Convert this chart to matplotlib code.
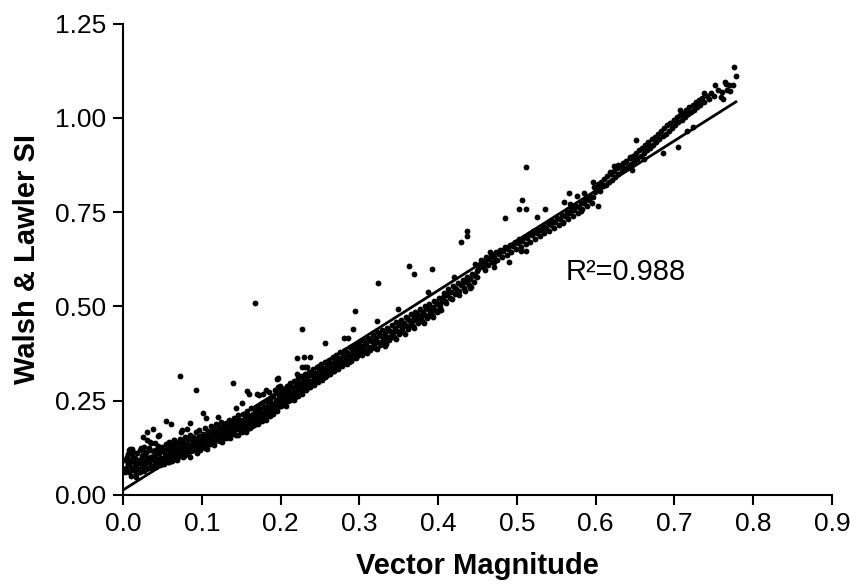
import matplotlib
matplotlib.use("Agg")
import matplotlib.pyplot as plt
import numpy as np

# (vector magnitude, Walsh & Lawler SI) pairs
band_a = [
	(0.002, 0.094), (0.004, 0.072), (0.005, 0.101), (0.006, 0.083), (0.007, 0.119), (0.008, 0.061), (0.009, 0.090), (0.010, 0.051), (0.010, 0.075), (0.011, 0.108),
	(0.012, 0.122), (0.013, 0.066), (0.014, 0.087), (0.015, 0.098), (0.016, 0.057), (0.017, 0.048), (0.017, 0.079), (0.018, 0.112), (0.019, 0.070), (0.020, 0.093),
	(0.021, 0.060), (0.022, 0.084), (0.023, 0.125), (0.024, 0.103), (0.025, 0.073), (0.026, 0.090), (0.027, 0.127), (0.027, 0.064), (0.028, 0.081), (0.029, 0.110), (0.030, 0.097),
	(0.031, 0.145), (0.032, 0.071), (0.033, 0.088), (0.034, 0.118), (0.035, 0.078), (0.036, 0.139), (0.036, 0.101), (0.037, 0.068), (0.038, 0.092), (0.039, 0.113), (0.040, 0.139), (0.040, 0.083),
	(0.041, 0.105), (0.042, 0.074), (0.043, 0.096), (0.044, 0.156), (0.044, 0.121), (0.045, 0.086), (0.046, 0.110), (0.047, 0.079), (0.048, 0.099), (0.049, 0.128), (0.050, 0.091),
	(0.051, 0.116), (0.052, 0.083), (0.053, 0.104), (0.054, 0.134), (0.055, 0.094), (0.056, 0.122), (0.057, 0.087), (0.058, 0.109), (0.059, 0.140), (0.060, 0.099),
	(0.061, 0.118), (0.062, 0.090), (0.063, 0.130), (0.064, 0.106), (0.065, 0.146), (0.066, 0.096), (0.067, 0.124), (0.068, 0.111), (0.069, 0.137), (0.070, 0.101),
	(0.071, 0.120), (0.072, 0.148), (0.073, 0.108), (0.074, 0.131), (0.075, 0.115), (0.076, 0.142), (0.077, 0.104), (0.078, 0.127), (0.079, 0.153), (0.080, 0.117),
	(0.081, 0.136), (0.082, 0.110), (0.083, 0.148), (0.084, 0.124), (0.085, 0.160), (0.086, 0.116), (0.087, 0.139), (0.088, 0.129), (0.089, 0.154), (0.090, 0.121),
	(0.091, 0.143), (0.092, 0.131), (0.093, 0.166), (0.094, 0.125), (0.095, 0.150), (0.096, 0.138), (0.097, 0.172), (0.098, 0.118), (0.099, 0.157), (0.100, 0.142),
]

band_b = [
	(0.101, 0.130), (0.102, 0.163), (0.103, 0.148), (0.104, 0.178), (0.105, 0.137), (0.106, 0.155), (0.107, 0.122), (0.108, 0.170), (0.109, 0.145), (0.110, 0.160),
	(0.111, 0.134), (0.112, 0.184), (0.113, 0.151), (0.114, 0.166), (0.115, 0.141), (0.116, 0.175), (0.117, 0.158), (0.118, 0.189), (0.119, 0.147), (0.120, 0.169),
	(0.121, 0.155), (0.122, 0.180), (0.123, 0.143), (0.124, 0.163), (0.125, 0.194), (0.126, 0.172), (0.127, 0.152), (0.128, 0.184), (0.129, 0.166), (0.130, 0.159),
	(0.131, 0.190), (0.132, 0.175), (0.133, 0.157), (0.134, 0.199), (0.135, 0.170), (0.136, 0.183), (0.137, 0.162), (0.138, 0.193), (0.139, 0.177), (0.140, 0.169),
	(0.141, 0.204), (0.142, 0.186), (0.143, 0.160), (0.144, 0.196), (0.145, 0.178), (0.146, 0.211), (0.147, 0.190), (0.148, 0.172), (0.149, 0.200), (0.150, 0.184),
	(0.151, 0.168), (0.152, 0.215), (0.153, 0.194), (0.154, 0.180), (0.155, 0.207), (0.156, 0.188), (0.157, 0.176), (0.158, 0.222), (0.159, 0.199), (0.160, 0.186),
	(0.161, 0.210), (0.162, 0.194), (0.163, 0.230), (0.164, 0.182), (0.165, 0.216), (0.166, 0.201), (0.167, 0.191), (0.168, 0.224), (0.169, 0.207), (0.170, 0.196),
	(0.171, 0.236), (0.172, 0.214), (0.173, 0.200), (0.174, 0.228), (0.175, 0.209), (0.176, 0.244), (0.177, 0.218), (0.178, 0.204), (0.179, 0.233), (0.180, 0.221),
	(0.181, 0.210), (0.182, 0.249), (0.183, 0.227), (0.184, 0.238), (0.185, 0.215), (0.186, 0.255), (0.187, 0.231), (0.188, 0.244), (0.189, 0.222), (0.190, 0.236),
	(0.191, 0.262), (0.192, 0.240), (0.193, 0.228), (0.194, 0.251), (0.195, 0.270), (0.196, 0.244), (0.197, 0.233), (0.198, 0.258), (0.199, 0.276), (0.200, 0.249),
]

band_c = [
	(0.201, 0.237), (0.202, 0.265), (0.203, 0.252), (0.204, 0.281), (0.205, 0.243), (0.206, 0.270), (0.207, 0.258), (0.208, 0.290), (0.209, 0.249), (0.210, 0.276),
	(0.211, 0.262), (0.212, 0.297), (0.213, 0.268), (0.214, 0.254), (0.215, 0.285), (0.216, 0.273), (0.217, 0.303), (0.218, 0.260), (0.219, 0.290), (0.220, 0.279),
	(0.221, 0.267), (0.222, 0.309), (0.223, 0.284), (0.224, 0.296), (0.225, 0.272), (0.226, 0.315), (0.227, 0.291), (0.228, 0.278), (0.229, 0.304), (0.230, 0.288),
	(0.231, 0.321), (0.232, 0.297), (0.233, 0.283), (0.234, 0.312), (0.235, 0.294), (0.236, 0.327), (0.237, 0.303), (0.238, 0.290), (0.239, 0.318), (0.240, 0.300),
	(0.241, 0.334), (0.242, 0.310), (0.243, 0.296), (0.244, 0.324), (0.245, 0.306), (0.246, 0.340), (0.247, 0.317), (0.248, 0.302), (0.249, 0.330), (0.250, 0.312),
	(0.251, 0.346), (0.252, 0.322), (0.253, 0.309), (0.254, 0.337), (0.255, 0.318), (0.256, 0.352), (0.257, 0.329), (0.258, 0.315), (0.259, 0.343), (0.260, 0.326),
	(0.261, 0.358), (0.262, 0.335), (0.263, 0.321), (0.264, 0.350), (0.265, 0.332), (0.266, 0.365), (0.267, 0.341), (0.268, 0.328), (0.269, 0.356), (0.270, 0.339),
	(0.271, 0.371), (0.272, 0.348), (0.273, 0.334), (0.274, 0.362), (0.275, 0.345), (0.276, 0.378), (0.277, 0.354), (0.278, 0.341), (0.279, 0.369), (0.280, 0.352),
	(0.282, 0.384), (0.283, 0.362), (0.284, 0.348), (0.285, 0.376), (0.287, 0.359), (0.288, 0.392), (0.289, 0.369), (0.290, 0.356), (0.292, 0.383), (0.293, 0.366),
	(0.294, 0.398), (0.295, 0.376), (0.296, 0.363), (0.297, 0.390), (0.298, 0.372), (0.299, 0.404), (0.300, 0.381),
]

band_d = [
	(0.302, 0.395), (0.303, 0.371), (0.305, 0.410), (0.306, 0.388), (0.308, 0.378), (0.309, 0.402), (0.311, 0.417), (0.312, 0.393), (0.314, 0.384), (0.315, 0.408),
	(0.317, 0.425), (0.318, 0.399), (0.320, 0.390), (0.321, 0.415), (0.323, 0.431), (0.324, 0.406), (0.326, 0.398), (0.327, 0.422), (0.329, 0.438), (0.330, 0.413),
	(0.332, 0.405), (0.333, 0.429), (0.335, 0.444), (0.336, 0.420), (0.338, 0.412), (0.339, 0.436), (0.341, 0.451), (0.342, 0.427), (0.344, 0.419), (0.345, 0.443),
	(0.347, 0.458), (0.348, 0.434), (0.350, 0.426), (0.351, 0.450), (0.353, 0.465), (0.354, 0.442), (0.356, 0.433), (0.357, 0.457), (0.359, 0.472), (0.360, 0.449),
	(0.362, 0.441), (0.363, 0.464), (0.365, 0.479), (0.366, 0.456), (0.368, 0.448), (0.369, 0.471), (0.371, 0.486), (0.372, 0.463), (0.374, 0.455), (0.375, 0.478),
	(0.377, 0.493), (0.378, 0.470), (0.380, 0.462), (0.381, 0.485), (0.383, 0.500), (0.384, 0.477), (0.386, 0.469), (0.387, 0.492), (0.389, 0.507), (0.390, 0.484),
	(0.392, 0.476), (0.393, 0.499), (0.395, 0.514), (0.396, 0.491), (0.398, 0.484), (0.399, 0.506), (0.401, 0.521), (0.402, 0.498), (0.404, 0.491), (0.405, 0.513),
	(0.407, 0.536), (0.409, 0.515), (0.411, 0.530), (0.413, 0.546), (0.415, 0.523), (0.417, 0.539), (0.419, 0.554), (0.421, 0.532), (0.423, 0.547), (0.425, 0.562),
	(0.427, 0.540), (0.429, 0.556), (0.431, 0.570), (0.433, 0.549), (0.435, 0.564), (0.437, 0.578), (0.439, 0.557), (0.441, 0.572), (0.443, 0.586), (0.445, 0.566),
	(0.447, 0.581), (0.449, 0.595),
]

band_e = [
	(0.451, 0.598), (0.453, 0.613), (0.455, 0.622), (0.457, 0.604), (0.459, 0.618), (0.461, 0.630), (0.463, 0.611), (0.465, 0.625), (0.467, 0.638), (0.469, 0.617),
	(0.471, 0.632), (0.473, 0.644), (0.475, 0.624), (0.477, 0.639), (0.479, 0.650), (0.481, 0.631), (0.483, 0.646), (0.485, 0.657), (0.487, 0.637), (0.489, 0.653),
	(0.491, 0.664), (0.493, 0.644), (0.495, 0.660), (0.497, 0.671), (0.499, 0.651), (0.501, 0.667), (0.503, 0.678), (0.505, 0.658), (0.507, 0.674), (0.509, 0.685),
	(0.511, 0.665), (0.513, 0.681), (0.515, 0.692), (0.517, 0.672), (0.519, 0.688), (0.521, 0.699), (0.523, 0.679), (0.525, 0.695), (0.527, 0.706), (0.529, 0.686),
	(0.531, 0.702), (0.533, 0.713), (0.535, 0.694), (0.537, 0.709), (0.539, 0.720), (0.541, 0.701), (0.543, 0.716), (0.545, 0.727), (0.547, 0.708), (0.549, 0.724),
	(0.551, 0.735), (0.553, 0.715), (0.555, 0.731), (0.557, 0.743), (0.559, 0.723), (0.561, 0.739), (0.563, 0.751), (0.565, 0.731), (0.567, 0.747), (0.569, 0.759),
	(0.571, 0.740), (0.573, 0.756), (0.575, 0.767), (0.577, 0.748), (0.579, 0.764), (0.581, 0.775), (0.583, 0.757), (0.585, 0.773), (0.587, 0.784), (0.589, 0.766),
	(0.591, 0.782), (0.593, 0.793), (0.595, 0.775), (0.597, 0.791), (0.599, 0.802),
]

band_f = [
	(0.601, 0.812), (0.603, 0.825), (0.605, 0.806), (0.607, 0.830), (0.609, 0.818), (0.611, 0.837), (0.613, 0.822), (0.615, 0.845), (0.617, 0.829), (0.619, 0.851),
	(0.621, 0.836), (0.623, 0.860), (0.625, 0.843), (0.627, 0.866), (0.629, 0.851), (0.631, 0.872), (0.633, 0.858), (0.635, 0.879), (0.637, 0.864), (0.639, 0.886),
	(0.641, 0.871), (0.643, 0.893), (0.645, 0.878), (0.647, 0.900), (0.649, 0.885), (0.651, 0.907), (0.653, 0.892), (0.655, 0.914), (0.657, 0.899), (0.659, 0.921),
	(0.661, 0.906), (0.663, 0.929), (0.665, 0.914), (0.667, 0.936), (0.669, 0.921), (0.671, 0.943), (0.673, 0.929), (0.675, 0.950), (0.677, 0.936), (0.679, 0.958),
	(0.681, 0.944), (0.683, 0.965), (0.685, 0.951), (0.687, 0.973), (0.689, 0.958), (0.691, 0.980), (0.693, 0.966), (0.695, 0.987), (0.697, 0.973), (0.699, 0.994),
	(0.701, 0.981), (0.703, 1.001), (0.705, 0.988), (0.707, 1.008), (0.709, 0.995), (0.711, 1.014), (0.713, 1.002), (0.715, 1.021), (0.717, 1.009), (0.719, 1.028),
	(0.721, 1.016), (0.723, 1.034), (0.725, 1.022), (0.727, 1.041), (0.729, 1.029), (0.731, 1.047), (0.733, 1.035), (0.735, 1.053), (0.738, 1.042), (0.741, 1.059),
	(0.744, 1.049), (0.747, 1.066), (0.750, 1.057), (0.755, 1.075), (0.760, 1.068), (0.765, 1.090),
]

band_fill = [
	(0.003, 0.062), (0.006, 0.108), (0.008, 0.079), (0.011, 0.095), (0.013, 0.113), (0.015, 0.071), (0.018, 0.089), (0.020, 0.062), (0.022, 0.118), (0.024, 0.078),
	(0.026, 0.105), (0.029, 0.069), (0.031, 0.092), (0.033, 0.124), (0.035, 0.100), (0.038, 0.077), (0.040, 0.118), (0.042, 0.090), (0.045, 0.130), (0.047, 0.098),
	(0.049, 0.083), (0.052, 0.113), (0.054, 0.096), (0.057, 0.131), (0.059, 0.088), (0.061, 0.105), (0.064, 0.122), (0.066, 0.113), (0.069, 0.094), (0.071, 0.140),
	(0.073, 0.117), (0.076, 0.101), (0.078, 0.135), (0.080, 0.109), (0.083, 0.128), (0.085, 0.100), (0.087, 0.148), (0.089, 0.118), (0.092, 0.139), (0.094, 0.112),
	(0.096, 0.156), (0.099, 0.128), (0.102, 0.150), (0.104, 0.124), (0.107, 0.162), (0.109, 0.134), (0.112, 0.143), (0.114, 0.175), (0.116, 0.132), (0.119, 0.162),
	(0.121, 0.146), (0.124, 0.176), (0.126, 0.140), (0.129, 0.181), (0.131, 0.152), (0.134, 0.166), (0.136, 0.150), (0.139, 0.188), (0.141, 0.162), (0.144, 0.176),
	(0.146, 0.158), (0.149, 0.191), (0.151, 0.177), (0.154, 0.198), (0.156, 0.167), (0.159, 0.211), (0.161, 0.178), (0.164, 0.206), (0.166, 0.185), (0.169, 0.219),
	(0.171, 0.189), (0.174, 0.205), (0.176, 0.196), (0.179, 0.216), (0.181, 0.200), (0.184, 0.228), (0.186, 0.210), (0.189, 0.242), (0.191, 0.215), (0.194, 0.235),
	(0.196, 0.222), (0.199, 0.262), (0.202, 0.243), (0.204, 0.259), (0.207, 0.236), (0.209, 0.282), (0.212, 0.253), (0.214, 0.270), (0.217, 0.251), (0.219, 0.294),
	(0.222, 0.262), (0.224, 0.283), (0.227, 0.268), (0.229, 0.312), (0.232, 0.279), (0.234, 0.300), (0.237, 0.286), (0.239, 0.326), (0.242, 0.292), (0.244, 0.313),
	(0.247, 0.300), (0.249, 0.341), (0.252, 0.306), (0.254, 0.328), (0.257, 0.313), (0.259, 0.352), (0.262, 0.320), (0.264, 0.340), (0.267, 0.330), (0.269, 0.366),
	(0.272, 0.336), (0.274, 0.352), (0.277, 0.344), (0.279, 0.380), (0.282, 0.350), (0.284, 0.367), (0.287, 0.353), (0.289, 0.391), (0.292, 0.362), (0.294, 0.381),
	(0.297, 0.368), (0.300, 0.398), (0.304, 0.383), (0.307, 0.400), (0.310, 0.376), (0.313, 0.413), (0.316, 0.392), (0.319, 0.409), (0.322, 0.388), (0.325, 0.427),
	(0.328, 0.404), (0.331, 0.420), (0.334, 0.400), (0.337, 0.441), (0.340, 0.418), (0.343, 0.433), (0.346, 0.414), (0.349, 0.455), (0.352, 0.433), (0.355, 0.447),
	(0.358, 0.428), (0.361, 0.468), (0.364, 0.447), (0.367, 0.462), (0.370, 0.443), (0.373, 0.482), (0.376, 0.461), (0.379, 0.476), (0.382, 0.457), (0.385, 0.497),
	(0.388, 0.475), (0.391, 0.490), (0.394, 0.471), (0.397, 0.511), (0.400, 0.489), (0.403, 0.506), (0.406, 0.526), (0.410, 0.509), (0.414, 0.538), (0.418, 0.520),
	(0.422, 0.549), (0.426, 0.531), (0.430, 0.560), (0.434, 0.542), (0.438, 0.571), (0.442, 0.552), (0.446, 0.583),
]

scattered = [
	(0.072, 0.315), (0.093, 0.278), (0.140, 0.296), (0.196, 0.307), (0.157, 0.276), (0.160, 0.269), (0.054, 0.197), (0.061, 0.187),
	(0.038, 0.174), (0.026, 0.154), (0.031, 0.166), (0.046, 0.159), (0.034, 0.141), (0.000, 0.093), (0.009, 0.121), (0.028, 0.115),
	(0.101, 0.218), (0.120, 0.207), (0.075, 0.172), (0.065, 0.146), (0.073, 0.168), (0.081, 0.174), (0.063, 0.137), (0.085, 0.190),
	(0.106, 0.203), (0.144, 0.230), (0.151, 0.243), (0.173, 0.265), (0.170, 0.269), (0.178, 0.267), (0.185, 0.272), (0.193, 0.279),
	(0.199, 0.288), (0.197, 0.287), (0.182, 0.278), (0.221, 0.322), (0.234, 0.340), (0.167, 0.510), (0.227, 0.338),
	(0.363, 0.606), (0.370, 0.585), (0.392, 0.598), (0.324, 0.561), (0.295, 0.487), (0.227, 0.439), (0.349, 0.494), (0.257, 0.404),
	(0.292, 0.440), (0.323, 0.461), (0.280, 0.415), (0.286, 0.415), (0.221, 0.364), (0.230, 0.366), (0.237, 0.366), (0.231, 0.340),
	(0.197, 0.310), (0.387, 0.537), (0.376, 0.470), (0.343, 0.419), (0.332, 0.395), (0.420, 0.578), (0.440, 0.550), (0.449, 0.578),
	(0.511, 0.869), (0.506, 0.783), (0.503, 0.759), (0.512, 0.757), (0.485, 0.735), (0.437, 0.699), (0.437, 0.687), (0.429, 0.670),
	(0.566, 0.800), (0.603, 0.767), (0.582, 0.752), (0.536, 0.757), (0.526, 0.737), (0.490, 0.618), (0.471, 0.618), (0.471, 0.605),
	(0.460, 0.596), (0.511, 0.646), (0.505, 0.646), (0.466, 0.644), (0.447, 0.612), (0.559, 0.722), (0.576, 0.794), (0.585, 0.800),
	(0.589, 0.790), (0.560, 0.777), (0.568, 0.772), (0.572, 0.764), (0.564, 0.746), (0.596, 0.830), (0.598, 0.817), (0.606, 0.817),
	(0.618, 0.856), (0.623, 0.871), (0.629, 0.874), (0.633, 0.871), (0.646, 0.861), (0.644, 0.896), (0.653, 0.894), (0.661, 0.892),
	(0.651, 0.942), (0.666, 0.930), (0.669, 0.922), (0.686, 0.907), (0.704, 0.922), (0.707, 1.020), (0.700, 0.995), (0.716, 0.966),
	(0.723, 0.975), (0.738, 1.066), (0.752, 1.086), (0.759, 1.055), (0.762, 1.049), (0.767, 1.074), (0.770, 1.070), (0.764, 1.096),
	(0.769, 1.088), (0.774, 1.086), (0.778, 1.110), (0.776, 1.134),
]

# linear fit shown on the figure
fit_intercept = 0.013
fit_slope = 1.323
r_squared = "0.988"

x_ticks = [0.0, 0.1, 0.2, 0.3, 0.4, 0.5, 0.6, 0.7, 0.8, 0.9]
y_ticks = [0.00, 0.25, 0.50, 0.75, 1.00, 1.25]


def main():
	plt.rcParams["font.family"] = ["Liberation Sans", "DejaVu Sans"]
	pts = np.array(band_a + band_b + band_c + band_d + band_e + band_f + band_fill + scattered)
	vm = pts[:, 0]
	wl = pts[:, 1]

	fig = plt.figure(figsize=(8.5, 5.88), dpi=100)
	ax = fig.add_axes([0.1447, 0.1582, 0.8341, 0.8018])

	ax.plot(vm, wl, "o", color="black", ms=4.2, mew=0)
	line_x = np.array([0.0, vm.max()])
	ax.plot(line_x, fit_intercept + fit_slope * line_x, color="black", lw=2.0)

	ax.text(0.562, 0.591, "R\u00b2=" + r_squared, fontsize=21, va="center", ha="left")

	ax.set_xlim(0, 0.9)
	ax.set_ylim(0, 1.25)
	ax.set_xticks(x_ticks, [f"{t:.1f}" for t in x_ticks])
	ax.set_yticks(y_ticks, [f"{t:.2f}" for t in y_ticks])
	ax.tick_params(direction="out", length=7, width=1.5, labelsize=19, pad=5)
	for side in ["top", "right"]:
		ax.spines[side].set_visible(False)
	for side in ["left", "bottom"]:
		ax.spines[side].set_linewidth(1.5)

	ax.set_xlabel("Vector Magnitude", fontsize=21, fontweight="bold", labelpad=12)
	ax.set_ylabel("Walsh & Lawler SI", fontsize=21, fontweight="bold", labelpad=10)

	fig.savefig("out.png", dpi=100)


if __name__ == "__main__":
	main()
